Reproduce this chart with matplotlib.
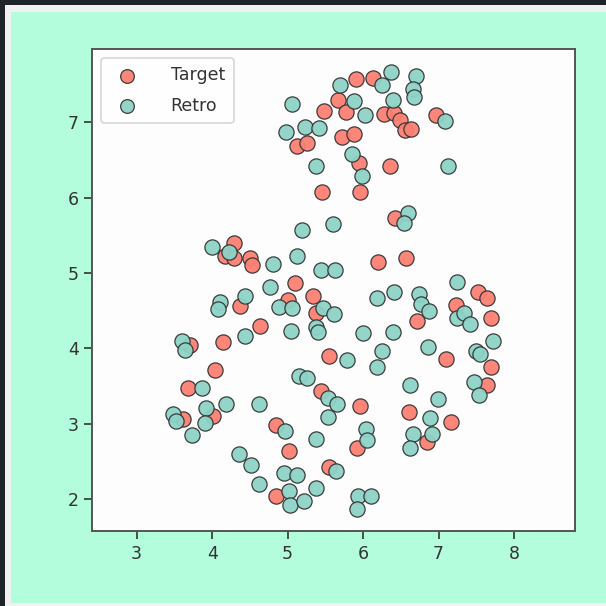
import matplotlib
matplotlib.use("Agg")
import matplotlib.pyplot as plt
from matplotlib.patches import Rectangle

# ---- data ----
target_x = [5.48, 5.67, 5.12, 5.25, 5.72, 5.46, 4.29, 5.90, 6.13, 5.77, 6.27, 6.41, 6.49, 6.55, 6.64,
            6.96, 5.88, 5.95, 5.96, 6.35, 6.42, 4.17, 4.29, 4.50, 4.53, 5.10, 5.33, 4.37, 5.00, 5.38,
            4.63, 3.71, 4.14, 5.55, 4.04, 3.68, 6.20, 6.57, 7.52, 7.64, 6.72, 7.23, 7.70, 7.10, 7.70,
            7.64, 5.44, 4.01, 3.62, 4.85, 5.02, 5.55, 4.84, 5.96, 6.61, 7.16, 5.92, 6.84]
target_y = [7.15, 7.30, 6.68, 6.73, 6.80, 6.08, 5.40, 7.57, 7.58, 7.14, 7.11, 7.12, 7.03, 6.89, 6.91,
            7.10, 6.84, 6.46, 6.07, 6.42, 5.73, 5.22, 5.20, 5.20, 5.11, 4.87, 4.70, 4.56, 4.64, 4.47,
            4.30, 4.04, 4.08, 3.90, 3.71, 3.48, 5.14, 5.20, 4.75, 4.67, 4.37, 4.57, 4.41, 3.86, 3.75,
            3.52, 3.43, 3.10, 3.06, 2.98, 2.64, 2.43, 2.05, 3.24, 3.16, 3.03, 2.68, 2.76]

retro_x = [5.06, 4.98, 5.23, 5.41, 5.37, 5.19, 5.60, 4.00, 4.22, 5.69, 6.37, 6.25, 6.70, 6.66, 6.67,
           5.88, 6.02, 6.40, 7.08, 5.85, 5.98, 7.13, 6.60, 6.54, 4.81, 5.12, 5.44, 5.63, 4.77, 4.11,
           4.08, 4.43, 4.88, 5.06, 5.47, 5.61, 5.05, 5.37, 5.40, 3.60, 3.64, 4.43, 5.15, 5.25, 3.87,
           7.24, 6.18, 6.41, 6.74, 6.77, 6.87, 7.24, 7.34, 7.41, 6.00, 6.40, 7.72, 6.25, 5.78, 6.18,
           6.86, 7.50, 7.55, 6.62, 7.47, 7.54, 5.53, 5.65, 3.92, 4.18, 4.62, 3.48, 3.52, 3.90, 3.73,
           4.97, 5.53, 5.38, 4.35, 4.51, 5.64, 4.95, 5.13, 4.62, 5.38, 5.02, 5.03, 5.22, 6.04, 6.05,
           6.99, 6.89, 6.66, 6.91, 6.62, 5.93, 6.10, 5.92]
retro_y = [7.24, 6.87, 6.94, 6.92, 6.42, 5.57, 5.65, 5.34, 5.28, 7.49, 7.67, 7.49, 7.61, 7.44, 7.33,
           7.28, 7.10, 7.30, 7.02, 6.58, 6.28, 6.42, 5.79, 5.66, 5.12, 5.22, 5.04, 5.04, 4.81, 4.62,
           4.52, 4.70, 4.55, 4.53, 4.54, 4.46, 4.23, 4.29, 4.22, 4.10, 3.98, 4.16, 3.64, 3.61, 3.47,
           4.88, 4.67, 4.75, 4.72, 4.59, 4.49, 4.41, 4.47, 4.33, 4.21, 4.22, 4.10, 3.96, 3.85, 3.75,
           4.02, 3.96, 3.92, 3.52, 3.55, 3.38, 3.34, 3.26, 3.21, 3.27, 3.27, 3.13, 3.04, 3.01, 2.85,
           2.90, 3.09, 2.80, 2.60, 2.46, 2.37, 2.35, 2.32, 2.20, 2.15, 2.11, 1.93, 1.98, 2.93, 2.79,
           3.33, 3.08, 2.87, 2.87, 2.68, 2.04, 2.05, 1.87]

series_labels = ["Target", "Retro"]
x_ticks = [3, 4, 5, 6, 7, 8]
y_ticks = [2, 3, 4, 5, 6, 7]

# ---- figure ----
W = H = 606
fig = plt.figure(figsize=(6.06, 6.06), dpi=100, facecolor="#1e2428")
fig.patches.append(Rectangle((4.6 / W, 0), 1, 1 - 5.4 / H, transform=fig.transFigure,
                             facecolor="#f1f1f1", edgecolor="none", zorder=-3))
fig.patches.append(Rectangle((11 / W, 3 / H), 1, 1 - 15 / H, transform=fig.transFigure,
                             facecolor="#b3fddc", edgecolor="none", zorder=-2))

ax = fig.add_axes([92.5 / W, 1 - 531 / H, 482 / W, 482 / H])
ax.set_facecolor("#fdfdfd")

ax.scatter(target_x, target_y, s=120, c="#fb8072", edgecolors="#333333", linewidths=0.9,
           alpha=0.95, label=series_labels[0], zorder=2)
ax.scatter(retro_x, retro_y, s=120, c="#8dd3c7", edgecolors="#333333", linewidths=0.9,
           alpha=0.95, label=series_labels[1], zorder=3)

ax.set_xlim(2.415, 8.80)
ax.set_ylim(1.58, 7.97)
ax.set_xticks(x_ticks)
ax.set_yticks(y_ticks)
ax.tick_params(axis="both", labelsize=12.5, colors="#333333", length=5.5, width=1.2, pad=4.5)
for sp in ax.spines.values():
    sp.set_color("#555555")
    sp.set_linewidth(1.4)

leg = ax.legend(loc="upper left", fontsize=12.5, markerscale=0.9, handletextpad=1.5,
                borderpad=0.5, labelspacing=0.7, frameon=True, fancybox=True)
leg.get_frame().set_edgecolor("#cccccc")
leg.get_frame().set_linewidth(1.2)
for t in leg.get_texts():
    t.set_color("#333333")

fig.savefig("out.png", dpi=100, facecolor=fig.get_facecolor())
